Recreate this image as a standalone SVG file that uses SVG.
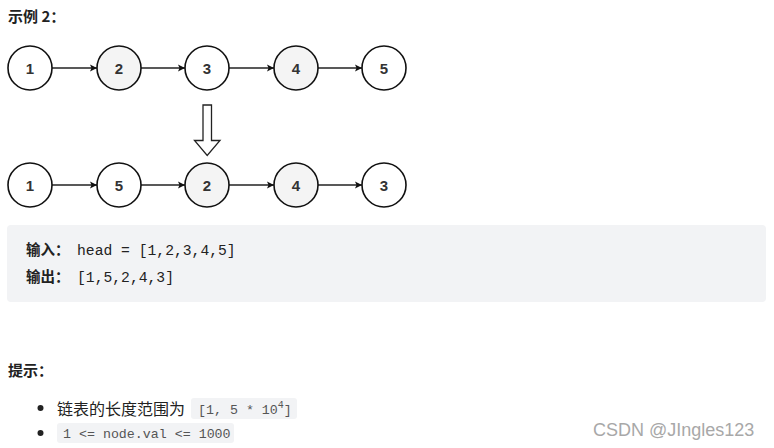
<svg xmlns="http://www.w3.org/2000/svg" width="774" height="448" viewBox="0 0 774 448">
<style>
.cjk{font-family:"Noto Sans CJK SC","Liberation Sans",sans-serif;fill:#222;}
.node circle{stroke:#111;stroke-width:1.6;}
.w{fill:#fff;}
.g{fill:#f4f4f4;}
.node text{font-family:"Liberation Sans",Arial,sans-serif;font-weight:bold;font-size:15px;fill:#333;text-anchor:middle;}
.edge{stroke:#222;stroke-width:1.3;fill:none;marker-end:url(#ah);}
.mono{font-family:"Liberation Mono","DejaVu Sans Mono",monospace;fill:#222;}
.chip{fill:#f2f3f5;}
.ctext{font-family:"Liberation Mono",monospace;fill:#555;font-size:13.3px;}
</style>
<defs>
<marker id="ah" markerWidth="8" markerHeight="8" refX="7" refY="4" orient="auto" markerUnits="userSpaceOnUse">
<path d="M0,0.5 L7,4 L0,7.5 L1.5,4 Z" fill="#111"/>
</marker>
</defs>
<rect width="774" height="448" fill="#fff"/>
<text class="cjk" x="8" y="22" font-size="15" font-weight="bold">示例 2：</text>

<g id="connectors">
<line class="edge" x1="52" y1="68" x2="97" y2="68"/>
<line class="edge" x1="141" y1="68" x2="185" y2="68"/>
<line class="edge" x1="229" y1="68" x2="274" y2="68"/>
<line class="edge" x1="318" y1="68" x2="362" y2="68"/>
<line class="edge" x1="52" y1="185" x2="97" y2="185"/>
<line class="edge" x1="141" y1="185" x2="185" y2="185"/>
<line class="edge" x1="229" y1="185" x2="274" y2="185"/>
<line class="edge" x1="318" y1="185" x2="362" y2="185"/>
</g>

<g id="n1" class="node"><circle class="w" cx="30" cy="68" r="22"/><text x="30" y="73.5">1</text></g>
<g id="n2" class="node"><circle class="g" cx="119" cy="68" r="22"/><text x="119" y="73.5">2</text></g>
<g id="n3" class="node"><circle class="w" cx="207" cy="68" r="22"/><text x="207" y="73.5">3</text></g>
<g id="n4" class="node"><circle class="g" cx="296" cy="68" r="22"/><text x="296" y="73.5">4</text></g>
<g id="n5" class="node"><circle class="w" cx="384" cy="68" r="22"/><text x="384" y="73.5">5</text></g>

<g id="bigarrow">
<path d="M203,105 L211.5,105 L211.5,140.5 L220,140.5 L207.2,155.5 L194.5,140.5 L203,140.5 Z" fill="#fff" stroke="#222" stroke-width="1.3"/>
</g>

<g id="m1" class="node"><circle class="w" cx="30" cy="185" r="22"/><text x="30" y="190.5">1</text></g>
<g id="m2" class="node"><circle class="w" cx="119" cy="185" r="22"/><text x="119" y="190.5">5</text></g>
<g id="m3" class="node"><circle class="g" cx="207" cy="185" r="22"/><text x="207" y="190.5">2</text></g>
<g id="m4" class="node"><circle class="g" cx="296" cy="185" r="22"/><text x="296" y="190.5">4</text></g>
<g id="m5" class="node"><circle class="w" cx="384" cy="185" r="22"/><text x="384" y="190.5">3</text></g>

<rect x="7" y="225" width="759" height="77" rx="4" fill="#f2f3f5"/>
<text class="cjk" x="26" y="255" font-size="14.5" font-weight="bold">输入：</text>
<text class="mono" x="77" y="255" font-size="14.7">head = [1,2,3,4,5]</text>
<text class="cjk" x="26" y="282" font-size="14.5" font-weight="bold">输出：</text>
<text class="mono" x="77" y="282" font-size="14.7">[1,5,2,4,3]</text>

<text class="cjk" x="8" y="376" font-size="15" font-weight="bold">提示：</text>

<circle cx="40.5" cy="408" r="3" fill="#222"/>
<text class="cjk" x="57" y="414.5" font-size="16">链表的长度范围为</text>
<rect class="chip" x="191" y="398" width="106" height="21" rx="3"/>
<text class="ctext" x="198" y="414">[1, 5 * 10<tspan font-size="10" dy="-6">4</tspan><tspan dy="6">]</tspan></text>

<circle cx="40.5" cy="433" r="3" fill="#222"/>
<rect class="chip" x="57" y="423" width="177" height="20" rx="3"/>
<text class="ctext" x="63" y="438">1 &lt;= node.val &lt;= 1000</text>

<text x="593" y="436" font-family="Liberation Sans,Arial,sans-serif" font-size="18" fill="#a8a8a8">CSDN @JIngles123</text>
</svg>
